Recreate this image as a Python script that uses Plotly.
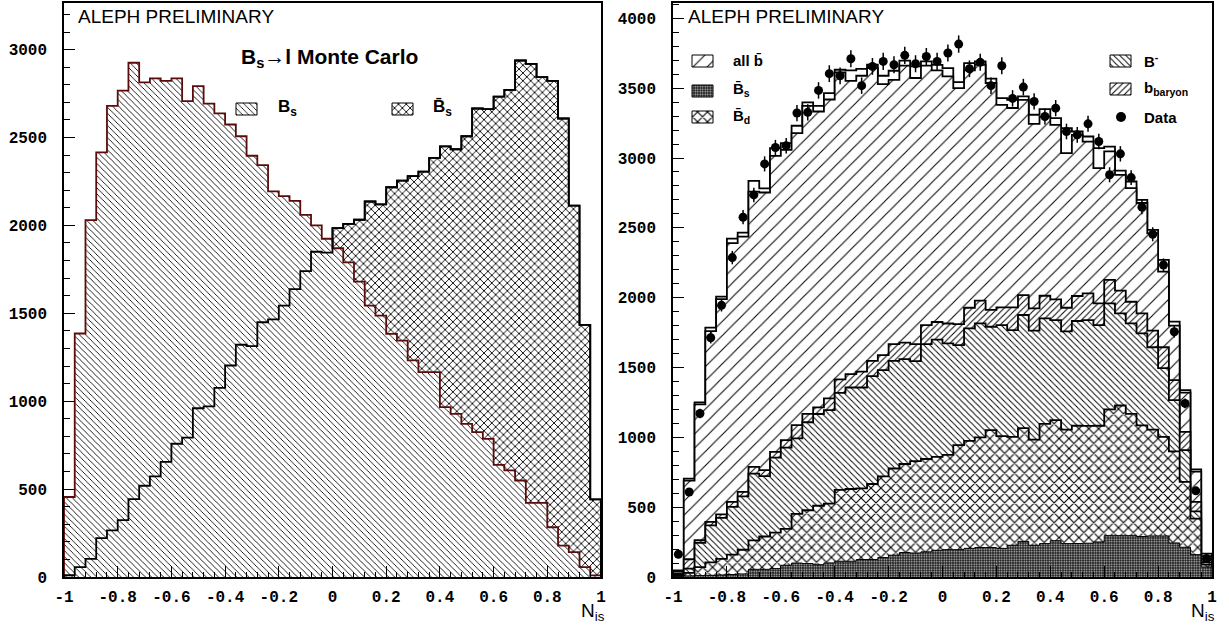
import numpy as np
import plotly.graph_objects as go

# 50 bins of N_is on [-1, 1]
edges = np.linspace(-1.0, 1.0, 51)
centres = 0.5 * (edges[:-1] + edges[1:])

# ---- left panel: B_s -> l Monte Carlo ----
mc_Bs = [455, 1385, 2030, 2415, 2680, 2767, 2925, 2813, 2836, 2822,
         2836, 2707, 2792, 2693, 2637, 2574, 2507, 2396, 2343, 2193,
         2166, 2140, 2060, 2000, 1924, 1870, 1790, 1680, 1544, 1487,
         1383, 1345, 1232, 1165, 1165, 966, 928, 871, 824, 786,
         638, 606, 549, 422, 422, 283, 179, 141, 56, 9]
mc_Bsbar = [10, 56, 103, 221, 265, 323, 443, 519, 572, 655,
            758, 793, 960, 970, 1076, 1203, 1321, 1313, 1449, 1465,
            1544, 1637, 1740, 1850, 1845, 1984, 2009, 2032, 2136, 2119,
            2217, 2255, 2280, 2306, 2384, 2450, 2433, 2507, 2665, 2661,
            2733, 2771, 2938, 2919, 2843, 2822, 2608, 2113, 1434, 441]

# ---- right panel: stacked MC, cumulative top of each layer ----
top_Bsbar = [3, 8, 10, 12, 15, 18, 22, 55, 55, 60,
             84, 100, 96, 88, 101, 113, 113, 125, 125, 139,
             156, 175, 172, 180, 191, 196, 196, 205, 211, 211,
             205, 227, 255, 227, 239, 260, 239, 240, 242, 251,
             296, 296, 296, 290, 294, 294, 244, 213, 160, 72]
top_Bdbar = [12, 30, 70, 105, 130, 160, 195, 262, 290, 318,
             345, 452, 478, 510, 526, 624, 630, 635, 666, 720,
             777, 809, 830, 845, 860, 875, 944, 975, 1000, 1052,
             1008, 1004, 1066, 983, 1097, 1123, 1055, 1083, 1082, 1083,
             1200, 1228, 1168, 1085, 1055, 1004, 900, 681, 418, 88]
top_Bminus = [20, 60, 245, 370, 423, 502, 578, 740, 722, 855,
              927, 992, 1108, 1167, 1195, 1319, 1357, 1357, 1438, 1481,
              1548, 1560, 1546, 1668, 1700, 1673, 1661, 1780, 1816, 1792,
              1804, 1768, 1876, 1764, 1852, 1840, 1759, 1833, 1840, 1804,
              1959, 1888, 1816, 1745, 1645, 1495, 1266, 908, 470, 105]
top_baryon = [25, 127, 263, 394, 449, 538, 609, 789, 765, 896,
              980, 1087, 1168, 1214, 1279, 1415, 1453, 1470, 1548, 1589,
              1668, 1678, 1668, 1804, 1826, 1815, 1810, 1928, 1979, 1912,
              1931, 1931, 2019, 1924, 2014, 1988, 1928, 2012, 2031, 1959,
              2127, 2050, 1971, 1888, 1764, 1645, 1409, 1039, 538, 125]
top_allb = [40, 690, 1236, 1761, 1990, 2390, 2437, 2760, 2753, 3016,
            3059, 3178, 3374, 3333, 3419, 3613, 3553, 3589, 3644, 3529,
            3560, 3661, 3573, 3661, 3627, 3584, 3501, 3627, 3668, 3537,
            3381, 3358, 3417, 3245, 3297, 3238, 3035, 3166, 3118, 2928,
            3047, 2880, 2784, 2678, 2461, 2186, 1800, 1320, 755, 150]
top_total = [48, 705, 1250, 1785, 2007, 2423, 2466, 2837, 2782, 3071,
             3107, 3231, 3398, 3374, 3465, 3632, 3627, 3639, 3668, 3589,
             3625, 3697, 3656, 3692, 3667, 3644, 3544, 3680, 3692, 3568,
             3429, 3417, 3441, 3310, 3350, 3286, 3214, 3190, 3154, 3071,
             3082, 2910, 2832, 2700, 2485, 2270, 1828, 1338, 770, 168]
data = [163, 609, 1171, 1713, 1945, 2287, 2576, 2736, 2958, 3075,
        3088, 3322, 3327, 3484, 3604, 3589, 3711, 3518, 3656, 3692,
        3668, 3735, 3675, 3727, 3692, 3752, 3816, 3639, 3685, 3518,
        3661, 3427, 3508, 3405, 3297, 3357, 3190, 3166, 3245, 3118,
        2880, 3030, 2860, 2648, 2454, 2234, 1756, 1243, 617, 132]
data_err = [13, 25, 34, 41, 44, 48, 51, 52, 54, 55,
            56, 58, 58, 59, 60, 60, 61, 59, 60, 61,
            61, 61, 61, 61, 61, 61, 62, 60, 61, 59,
            61, 59, 59, 58, 57, 58, 56, 56, 57, 56,
            54, 55, 53, 51, 50, 47, 42, 35, 25, 11]

x_tickvals = [-1, -0.8, -0.6, -0.4, -0.2, 0, 0.2, 0.4, 0.6, 0.8, 1]
x_ticktext = ["-1", "-0.8", "-0.6", "-0.4", "-0.2", "0", "0.2", "0.4", "0.6", "0.8", "1"]

# figure pixel geometry (1229 x 628), plot area 64..1212 x 3..577
W, H = 1229, 628
L, R, T, B = 64, 17, 3, 51
PW, PH = W - L - R, H - T - B


def px(x):
    return (x - L) / PW


def py(y):
    return (H - B - y) / PH


def step_xy(vals):
    xs = [edges[0]] + list(edges[:-1]) + [edges[-1], edges[-1]]
    ys = [0] + list(vals) + [vals[-1], 0]
    return xs, ys


def pat(shape, size, solidity, fg="black", bg="white"):
    return dict(shape=shape, size=size, solidity=solidity, fgcolor=fg, bgcolor=bg,
                fillmode="replace")


P_BS_L = pat("\\", 4.3, 0.2)
P_BSBAR_L = pat("x", 5.5, 0.3)
P_ALLB = pat("/", 10, 0.1)
P_BARYON = pat("/", 4.5, 0.22)
P_BMINUS = pat("\\", 4.3, 0.22)
P_BD = pat("x", 7, 0.3)
P_BSBAR = pat(".", 2.5, 0.35, fg="#d0d0d0", bg="#1a1a1a")


def hist(vals, xa, ya, pattern=None, line="black", lw=1.8, fill=True):
    xs, ys = step_xy(vals)
    kw = dict(x=xs, y=ys, mode="lines", line=dict(shape="hv", color=line, width=lw),
              xaxis=xa, yaxis=ya, showlegend=False, hoverinfo="skip")
    if fill:
        kw.update(fill="tozeroy", fillcolor="white")
        if pattern:
            kw["fillpattern"] = pattern
    return go.Scatter(**kw)


fig = go.Figure()

# left panel
fig.add_trace(hist(mc_Bsbar, "x", "y", P_BSBAR_L))
fig.add_trace(hist(mc_Bs, "x", "y", P_BS_L, line="#5a0c0c", lw=1.8))
fig.add_trace(hist(mc_Bsbar, "x", "y", fill=False))

# right panel: draw cumulative layers from the top down
fig.add_trace(hist(top_total, "x2", "y2"))
fig.add_trace(hist(top_allb, "x2", "y2", P_ALLB))
fig.add_trace(hist(top_baryon, "x2", "y2", P_BARYON))
fig.add_trace(hist(top_Bminus, "x2", "y2", P_BMINUS))
fig.add_trace(hist(top_Bdbar, "x2", "y2", P_BD))
fig.add_trace(hist(top_Bsbar, "x2", "y2", P_BSBAR, lw=1.0))
fig.add_trace(go.Scatter(
    x=centres, y=data, mode="markers", xaxis="x2", yaxis="y2",
    marker=dict(color="black", size=9),
    error_y=dict(type="data", array=data_err, color="black", thickness=1.5, width=0),
    showlegend=False, hoverinfo="skip"))


# hand-made legend swatches (pixel coordinates on an overlay axis)
def swatch(x0, y0, pattern, w=21, h=12):
    return go.Scatter(x=[x0, x0 + w, x0 + w, x0, x0], y=[y0, y0, y0 + h, y0 + h, y0],
                      mode="lines", fill="toself", fillcolor="white", fillpattern=pattern,
                      line=dict(color="black", width=1), xaxis="x3", yaxis="y3",
                      showlegend=False, hoverinfo="skip")


fig.add_trace(swatch(236, 103, P_BS_L))
fig.add_trace(swatch(392, 103, P_BSBAR_L))
fig.add_trace(swatch(692, 55, P_ALLB))
fig.add_trace(swatch(692, 85, P_BSBAR))
fig.add_trace(swatch(692, 111, P_BD))
fig.add_trace(swatch(1110, 55, P_BMINUS))
fig.add_trace(swatch(1110, 83, P_BARYON))
fig.add_trace(go.Scatter(x=[1121], y=[117], mode="markers", marker=dict(color="black", size=10),
                         xaxis="x3", yaxis="y3", showlegend=False, hoverinfo="skip"))

tickfont = dict(family="Liberation Mono", size=16, color="black", weight="bold")


def xax(domain):
    return dict(domain=domain, range=[-1, 1], tickmode="array", tickvals=x_tickvals,
                ticktext=x_ticktext, ticks="inside", ticklen=11, tickwidth=1.2,
                tickcolor="black", showline=True, linecolor="black", linewidth=1.5,
                mirror=True, showgrid=False, zeroline=False, tickfont=tickfont,
                ticklabelstandoff=4, automargin=False,
                minor=dict(tickmode="linear", tick0=-1, dtick=0.04, ticks="inside",
                           ticklen=5, tickwidth=1, tickcolor="black"))


def yax(rng, anchor):
    return dict(range=rng, anchor=anchor, dtick=500, ticks="inside", ticklen=11,
                tickwidth=1.2, tickcolor="black", showline=True, linecolor="black",
                linewidth=1.5, mirror=True, showgrid=False, zeroline=False,
                tickfont=tickfont, ticklabelstandoff=12, automargin=False,
                minor=dict(dtick=100, ticks="inside", ticklen=6, tickwidth=1,
                           tickcolor="black"))


xl = [0, (601 - L) / PW]
xr = [(673 - L) / PW, 1]

sans = "Liberation Sans"
ann = []


def text(x, y, s, size=16, bold=True, anchor="left"):
    ann.append(dict(x=px(x), y=py(y), xref="paper", yref="paper", text=s, showarrow=False,
                    xanchor=anchor, yanchor="middle",
                    font=dict(family=sans, size=size, color="black",
                              weight="bold" if bold else "normal")))


text(76, 16, "ALEPH PRELIMINARY", size=19, bold=False)
text(686, 16, "ALEPH PRELIMINARY", size=19, bold=False)
text(239, 58, "B<sub>s</sub>→l Monte Carlo", size=21)
text(276, 108, "B<sub>s</sub>", size=17)
text(431, 108, "B\u0304<sub>s</sub>", size=17)
text(731, 61, "all b\u0304", size=15)
text(731, 90, "B\u0304<sub>s</sub>", size=15)
text(731, 116, "B\u0304<sub>d</sub>", size=15)
text(1142, 61, "B<sup>-</sup>", size=15)
text(1142, 88, "b<sub>baryon</sub>", size=15)
text(1142, 117, "Data", size=15)
text(579, 612, "N<sub>is</sub>", size=19, bold=False)
text(1189, 612, "N<sub>is</sub>", size=19, bold=False)

fig.update_layout(
    width=W, height=H,
    margin=dict(l=L, r=R, t=T, b=B, autoexpand=False),
    paper_bgcolor="white", plot_bgcolor="rgba(0,0,0,0)",
    xaxis=dict(anchor="y", **xax(xl)),
    yaxis=yax([0, 3265], "x"),
    xaxis2=dict(anchor="y2", **xax(xr)),
    yaxis2=yax([0, 4110], "x2"),
    xaxis3=dict(domain=[0, 1], range=[L, W - R], anchor="y3", visible=False),
    yaxis3=dict(domain=[0, 1], range=[H - B, T], anchor="x3", visible=False),
    annotations=ann,
    showlegend=False,
)

# the page's default body margin would shift the figure by 8 px
fig.write_html("out.html", config=dict(displayModeBar=False),
               post_script="document.body.style.margin='0px';")
